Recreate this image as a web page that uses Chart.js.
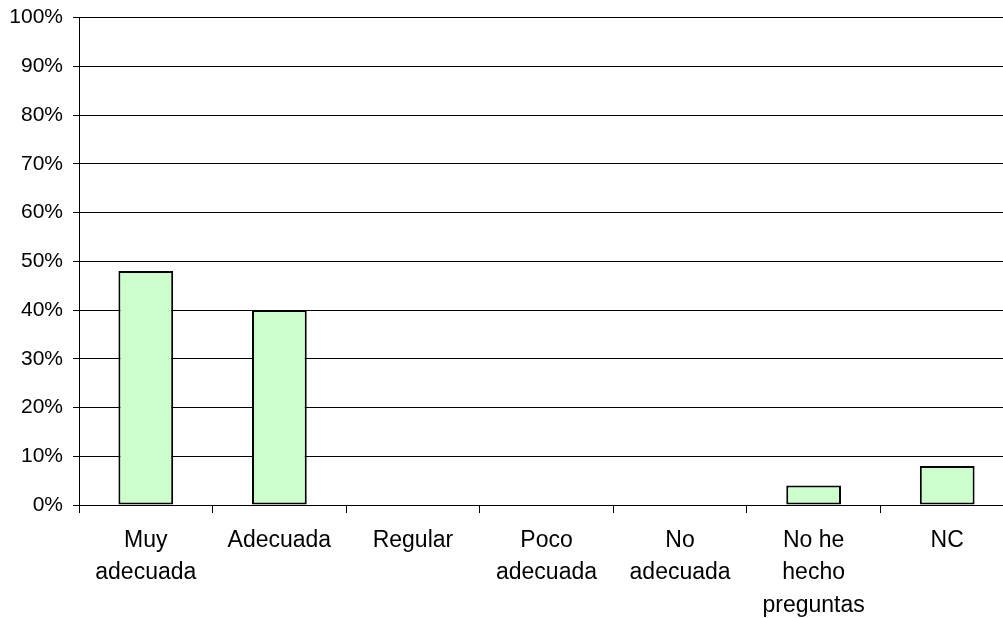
<!DOCTYPE html>
<html>
<head>
<meta charset="utf-8">
<script src="https://cdn.jsdelivr.net/npm/chart.js@4/dist/chart.umd.min.js"></script>
<style>
  html, body { margin: 0; padding: 0; background: #fff; overflow: hidden; }
  #wrap { width: 1016px; height: 618px; }
</style>
</head>
<body>
<div id="wrap"><canvas id="chart" width="1016" height="618"></canvas></div>
<script>
const categories = [
  ['Muy', 'adecuada'],
  ['Adecuada'],
  ['Regular'],
  ['Poco', 'adecuada'],
  ['No', 'adecuada'],
  ['No he', 'hecho', 'preguntas'],
  ['NC'],
];
const percentValues = [48, 40, 0, 0, 0, 4, 8];
const yTicks = [0, 10, 20, 30, 40, 50, 60, 70, 80, 90, 100];

const FAMILY = '"Liberation Sans", Arial, sans-serif';

const config = {
  type: 'bar',
  data: {
    labels: categories,
    datasets: [{
      data: percentValues,
      backgroundColor: '#CCFFCC',
      borderColor: '#000',
      borderWidth: 2,
      borderSkipped: false,
      barPercentage: 0.41,
      categoryPercentage: 1,
    }],
  },
  options: {
    responsive: false,
    animation: false,
    layout: { padding: { top: 10, right: 2, left: 0, bottom: 0 } },
    scales: {
      x: {
        grid: { display: true, drawOnChartArea: false, drawTicks: true, tickLength: 8, color: '#000', offset: true },
        border: { display: true, color: '#000', width: 1 },
        ticks: { color: '#000', font: { family: FAMILY, size: 23, lineHeight: 1.42 }, padding: 11, maxRotation: 0, autoSkip: false },
        afterFit(scale) { scale.height = 113; },
      },
      y: {
        min: 0,
        max: 100,
        afterBuildTicks(scale) { scale.ticks = yTicks.map(v => ({ value: v })); },
        grid: { color: '#000', lineWidth: 1, drawTicks: true, tickLength: 6 },
        border: { display: true, color: '#000', width: 1 },
        ticks: { color: '#000', font: { family: FAMILY, size: 21, lineHeight: 0.72 }, padding: 10, callback: v => v + '%' },
        afterFit(scale) { scale.width = 79; },
      },
    },
    plugins: {
      legend: { display: false },
      tooltip: { enabled: false },
    },
  },
};

new Chart(document.getElementById('chart'), config);
</script>
</body>
</html>
